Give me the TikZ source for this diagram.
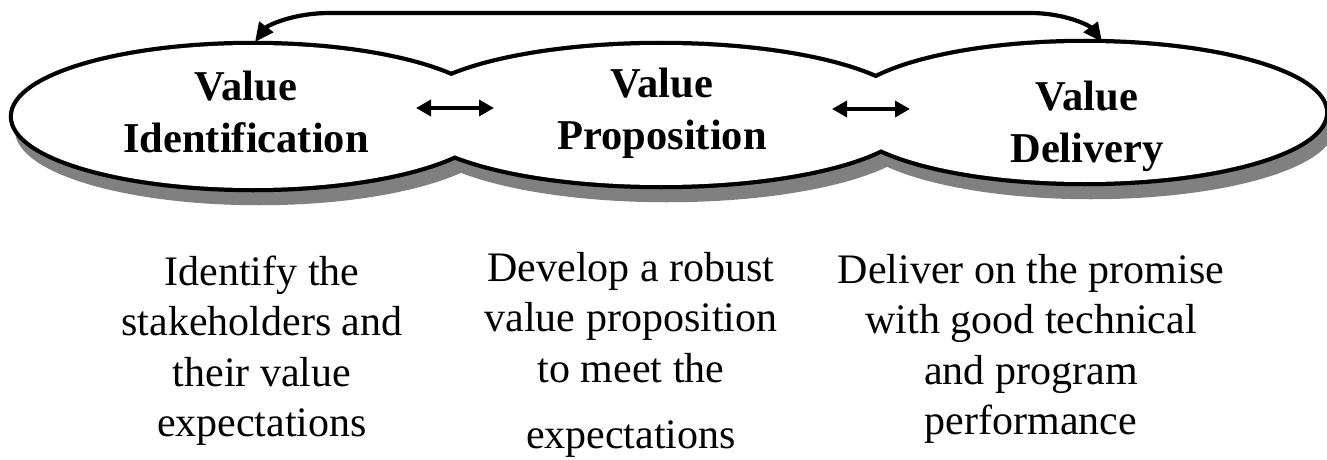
\documentclass[tikz,border=0pt]{standalone}
\usepackage{fontspec}
\setmainfont{Liberation Serif}
\usetikzlibrary{arrows.meta}

\begin{document}
\begin{tikzpicture}[x=1pt, y=-1pt,
  ttl/.style={inner sep=0pt, anchor=base, font=\bfseries\fontsize{42.5}{52}\selectfont},
  lbl/.style={inner sep=0pt, anchor=base, font=\fontsize{42}{50.5}\selectfont},
  shadowfill/.style={fill=black!50, draw=black!50, line width=8.5pt},
  rim/.style={draw=black, line width=8.5pt},
  swap/.style={line width=3.4pt, {Triangle[length=15pt,width=16pt]}-{Triangle[length=15pt,width=16pt]}},
  loop/.style={line width=4.2pt, {Triangle[length=19pt,width=17pt]}-{Triangle[length=19pt,width=17pt]}}
]
\useasboundingbox (0,0) rectangle (1327,460);

% centres of the three stages
\coordinate (cI) at (253,116.5);
\coordinate (cP) at (661,115);
\coordinate (cD) at (1085,112.5);

% drop shadow of the joined outline
\path[shadowfill] ([shift={(6,13)}]cI) ellipse [x radius=240, y radius=71.5];
\path[shadowfill] ([shift={(6,13)}]cP) ellipse [x radius=252, y radius=70];
\path[shadowfill] ([shift={(6,13)}]cD) ellipse [x radius=240, y radius=69.5];

% outer border only: wide strokes, then the white interiors on top
\path[rim] (cI) ellipse [x radius=240, y radius=71.5];
\path[rim] (cP) ellipse [x radius=252, y radius=70];
\path[rim] (cD) ellipse [x radius=240, y radius=69.5];
\fill[white] (cI) ellipse [x radius=240, y radius=71.5];
\fill[white] (cP) ellipse [x radius=252, y radius=70];
\fill[white] (cD) ellipse [x radius=240, y radius=69.5];

% stage titles
\node[ttl] (tI) at (246,100) {\begin{tabular}[t]{@{}c@{}}Value\\Identification\end{tabular}};
\node[ttl] (tP) at (662,97) {\begin{tabular}[t]{@{}c@{}}Value\\Proposition\end{tabular}};
\node[ttl] (tD) at (1087,110) {\begin{tabular}[t]{@{}c@{}}Value\\Delivery\end{tabular}};

% links between neighbouring stages
\coordinate (a1) at (416,108);
\coordinate (a2) at (494,108);
\coordinate (b1) at (832,109);
\coordinate (b2) at (910,109);
\draw[swap] (a1) -- (a2);
\draw[swap] (b1) -- (b2);

% feedback loop across the top
\coordinate (tl) at (255,42);
\coordinate (tr) at (1102,42);
\draw[loop] (tl) .. controls (267,26) and (292,13) .. (330,13)
  -- (1030,13) .. controls (1066,13) and (1090,26) .. (tr);

% descriptions
\node[lbl] (dI) at (262,285) {\begin{tabular}[t]{@{}c@{}}Identify the\\stakeholders and\\their value\\expectations\end{tabular}};
\node[lbl] (dP) at (631,281) {\begin{tabular}[t]{@{}c@{}}Develop a robust\\value proposition\\to meet the\\[16pt]expectations\end{tabular}};
\node[lbl] (dD) at (1031,283) {\begin{tabular}[t]{@{}c@{}}Deliver on the promise\\with good technical\\and program\\performance\end{tabular}};
\end{tikzpicture}
\end{document}
